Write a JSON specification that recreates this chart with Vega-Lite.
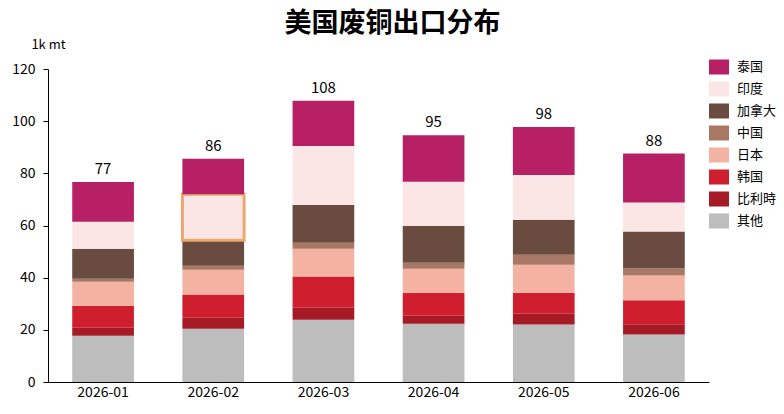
{
  "$schema": "https://vega.github.io/schema/vega-lite/v6.json",
  "width": 661,
  "height": 313,
  "autosize": {"type": "none"},
  "padding": {"left": 48, "top": 69, "right": 75, "bottom": 32},
  "background": "white",
  "title": {
    "text": "美国废铜出口分布",
    "fontSize": 27,
    "fontWeight": "bold",
    "font": "Noto Sans CJK SC",
    "color": "black",
    "anchor": "middle",
    "dx": 14,
    "offset": 0
  },
  "data": {
    "values": [
      {"month": "2026-01", "country": "其他", "value": 17.7},
      {"month": "2026-01", "country": "比利時", "value": 3.1},
      {"month": "2026-01", "country": "韩国", "value": 8.4},
      {"month": "2026-01", "country": "日本", "value": 9.2},
      {"month": "2026-01", "country": "中国", "value": 1.2},
      {"month": "2026-01", "country": "加拿大", "value": 11.5},
      {"month": "2026-01", "country": "印度", "value": 10.3},
      {"month": "2026-01", "country": "泰国", "value": 15.3},
      {"month": "2026-02", "country": "其他", "value": 20.4},
      {"month": "2026-02", "country": "比利時", "value": 4.2},
      {"month": "2026-02", "country": "韩国", "value": 8.9},
      {"month": "2026-02", "country": "日本", "value": 9.5},
      {"month": "2026-02", "country": "中国", "value": 1.6},
      {"month": "2026-02", "country": "加拿大", "value": 9.7},
      {"month": "2026-02", "country": "印度", "value": 17.7},
      {"month": "2026-02", "country": "泰国", "value": 13.6},
      {"month": "2026-03", "country": "其他", "value": 23.9},
      {"month": "2026-03", "country": "比利時", "value": 4.6},
      {"month": "2026-03", "country": "韩国", "value": 11.9},
      {"month": "2026-03", "country": "日本", "value": 10.7},
      {"month": "2026-03", "country": "中国", "value": 2.3},
      {"month": "2026-03", "country": "加拿大", "value": 14.5},
      {"month": "2026-03", "country": "印度", "value": 22.6},
      {"month": "2026-03", "country": "泰国", "value": 17.3},
      {"month": "2026-04", "country": "其他", "value": 22.3},
      {"month": "2026-04", "country": "比利時", "value": 3.1},
      {"month": "2026-04", "country": "韩国", "value": 8.8},
      {"month": "2026-04", "country": "日本", "value": 9.2},
      {"month": "2026-04", "country": "中国", "value": 2.3},
      {"month": "2026-04", "country": "加拿大", "value": 14.2},
      {"month": "2026-04", "country": "印度", "value": 16.9},
      {"month": "2026-04", "country": "泰国", "value": 17.8},
      {"month": "2026-05", "country": "其他", "value": 22.0},
      {"month": "2026-05", "country": "比利時", "value": 4.2},
      {"month": "2026-05", "country": "韩国", "value": 8.0},
      {"month": "2026-05", "country": "日本", "value": 10.8},
      {"month": "2026-05", "country": "中国", "value": 3.8},
      {"month": "2026-05", "country": "加拿大", "value": 13.4},
      {"month": "2026-05", "country": "印度", "value": 17.2},
      {"month": "2026-05", "country": "泰国", "value": 18.4},
      {"month": "2026-06", "country": "其他", "value": 18.2},
      {"month": "2026-06", "country": "比利時", "value": 3.9},
      {"month": "2026-06", "country": "韩国", "value": 9.2},
      {"month": "2026-06", "country": "日本", "value": 9.5},
      {"month": "2026-06", "country": "中国", "value": 2.7},
      {"month": "2026-06", "country": "加拿大", "value": 14.2},
      {"month": "2026-06", "country": "印度", "value": 11.1},
      {"month": "2026-06", "country": "泰国", "value": 18.8}
    ]
  },
  "transform": [
    {"calculate": "indexof(['泰国', '印度', '加拿大', '中国', '日本', '韩国', '比利時', '其他'], datum.country)", "as": "rank"}
  ],
  "encoding": {
    "x": {
      "field": "month",
      "type": "nominal",
      "title": null,
      "scale": {"paddingInner": 0.44, "paddingOuter": 0.22},
      "axis": {
        "labelAngle": 0,
        "ticks": false,
        "labelPadding": 3,
        "labelFontSize": 14,
        "domainColor": "black",
        "labelColor": "black"
      }
    }
  },
  "layer": [
    {
      "mark": {"type": "bar"},
      "encoding": {
        "y": {
          "field": "value",
          "type": "quantitative",
          "aggregate": "sum",
          "stack": "zero",
          "title": "1k mt",
          "scale": {"domain": [0, 120]},
          "axis": {
            "values": [0, 20, 40, 60, 80, 100, 120],
            "grid": false,
            "tickSize": 5,
            "tickColor": "black",
            "domainColor": "black",
            "labelColor": "black",
            "labelFontSize": 14,
            "labelPadding": 8,
            "titleAngle": 0,
            "titleX": 0,
            "titleY": -25,
            "titleAlign": "center",
            "titleBaseline": "middle",
            "titleFontWeight": "normal",
            "titleFontSize": 13,
            "titleColor": "black"
          }
        },
        "color": {
          "field": "country",
          "type": "nominal",
          "sort": ["泰国", "印度", "加拿大", "中国", "日本", "韩国", "比利時", "其他"],
          "scale": {
            "domain": ["泰国", "印度", "加拿大", "中国", "日本", "韩国", "比利時", "其他"],
            "range": ["#b82065", "#fbe6e6", "#694b3f", "#a87865", "#f3b2a2", "#cf1f2e", "#a51a24", "#bdbdbd"]
          },
          "legend": {
            "title": null,
            "orient": "none",
            "legendX": 661,
            "legendY": -12,
            "symbolType": "M-1,-0.75H1V0.75H-1Z",
            "symbolSize": 400,
            "symbolStrokeWidth": 0,
            "labelFontSize": 13,
            "labelColor": "black",
            "labelOffset": 8,
            "rowPadding": 4
          }
        },
        "order": {"field": "rank", "type": "quantitative", "sort": "descending"},
        "stroke": {
          "condition": {"test": "datum.month === '2026-02' && datum.country === '印度'", "value": "#eba772"},
          "value": null
        },
        "strokeWidth": {
          "condition": {"test": "datum.month === '2026-02' && datum.country === '印度'", "value": 3},
          "value": 0
        }
      }
    },
    {
      "mark": {"type": "text", "baseline": "bottom", "dy": -5, "fontSize": 15, "color": "black"},
      "encoding": {
        "y": {"field": "value", "type": "quantitative", "aggregate": "sum"},
        "text": {"field": "value", "type": "quantitative", "aggregate": "sum", "format": ".0f"}
      }
    }
  ],
  "config": {
    "font": "Noto Sans CJK SC",
    "view": {"stroke": null}
  }
}
